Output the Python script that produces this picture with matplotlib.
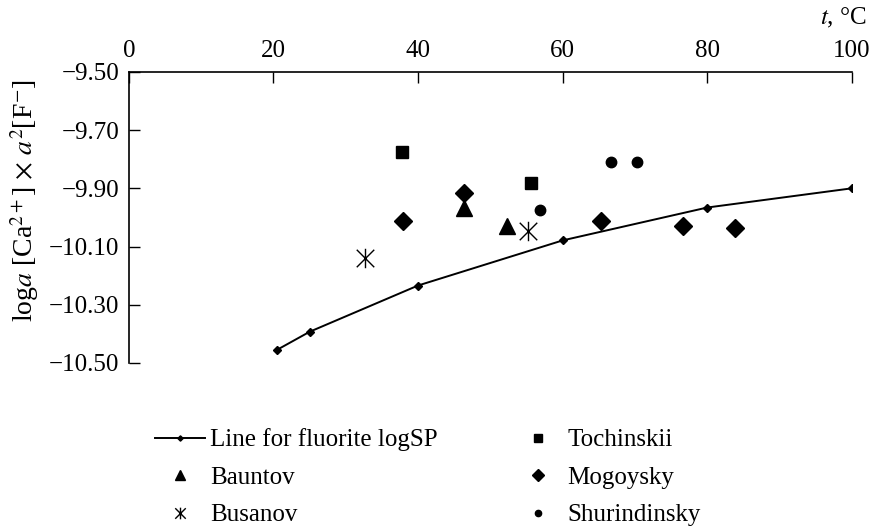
import matplotlib.pyplot as plt
from matplotlib.path import Path

plt.rcParams['font.family'] = ['Liberation Serif', 'DejaVu Serif']
plt.rcParams['mathtext.fontset'] = 'stix'

# fluorite solubility line
line_t = [20.5, 25, 40, 60, 80, 100]
line_v = [-10.455, -10.393, -10.234, -10.079, -9.966, -9.90]

# field data
toch_t = [37.8, 55.6]
toch_v = [-9.776, -9.883]
baun_t = [46.3, 52.3]
baun_v = [-9.969, -10.028]
mogo_t = [37.9, 46.3, 65.3, 76.6, 83.8]
mogo_v = [-10.014, -9.917, -10.014, -10.031, -10.038]
busa_t = [32.6, 55.2]
busa_v = [-10.141, -10.048]
shur_t = [66.7, 70.3, 56.8]
shur_v = [-9.81, -9.81, -9.976]

yticks = [-9.50, -9.70, -9.90, -10.10, -10.30, -10.50]
ytick_labels = ['\u22129.50', '\u22129.70', '\u22129.90', '\u221210.10', '\u221210.30', '\u221210.50']
xticks = [0, 20, 40, 60, 80, 100]

# asterisk: vertical bar + X
star = Path([(0, -1), (0, 1), (-0.9, -0.9), (0.9, 0.9), (-0.9, 0.9), (0.9, -0.9)],
            [Path.MOVETO, Path.LINETO, Path.MOVETO, Path.LINETO, Path.MOVETO, Path.LINETO])

fig = plt.figure(figsize=(8.71, 5.29), dpi=100)
ax = fig.add_axes([0.148, 0.314, 0.83, 0.55])

h_line, = ax.plot(line_t, line_v, color='black', lw=1.4, marker='D', ms=4.5,
                  label='Line for fluorite logSP')
h_baun, = ax.plot(baun_t, baun_v, ls='none', marker='^', ms=11, color='black', label='Bauntov')
h_busa, = ax.plot(busa_t, busa_v, ls='none', marker=star, ms=14, mew=1.0,
                  color='black', label='Busanov')
h_toch, = ax.plot(toch_t, toch_v, ls='none', marker='s', ms=8.5, color='black', label='Tochinskii')
h_mogo, = ax.plot(mogo_t, mogo_v, ls='none', marker='D', ms=9.5, color='black', label='Mogoysky')
h_shur, = ax.plot(shur_t, shur_v, ls='none', marker='o', ms=7.5, color='black', label='Shurindinsky')

ax.set_xlim(0, 100)
ax.set_ylim(-10.50, -9.50)
ax.xaxis.tick_top()
ax.set_xticks(xticks)
ax.set_yticks(yticks)
ax.set_yticklabels(ytick_labels)
ax.tick_params(axis='both', direction='in', length=8, width=1, labelsize=18, pad=7)
ax.spines['right'].set_visible(False)
ax.spines['bottom'].set_visible(False)
for s in ['top', 'left']:
    ax.spines[s].set_linewidth(1.2)

ax.set_ylabel(r'log$a$ [Ca$^{2+}$] $\times$ $a^2$[F$^{-}$]', fontsize=20)
ax.yaxis.set_label_coords(-0.122, 0.557)
fig.text(0.995, 0.966, r'$t$, °C', fontsize=18, ha='right', va='center')

handles = [h_line, h_baun, h_busa, h_toch, h_mogo, h_shur]
fig.legend(handles=handles, ncol=2, loc='upper left', bbox_to_anchor=(0.152, 0.2325),
           frameon=False, fontsize=18, markerscale=0.6, handlelength=2.0,
           handletextpad=0.2, columnspacing=3.0, labelspacing=0.6)

fig.savefig('out.png', dpi=100)
